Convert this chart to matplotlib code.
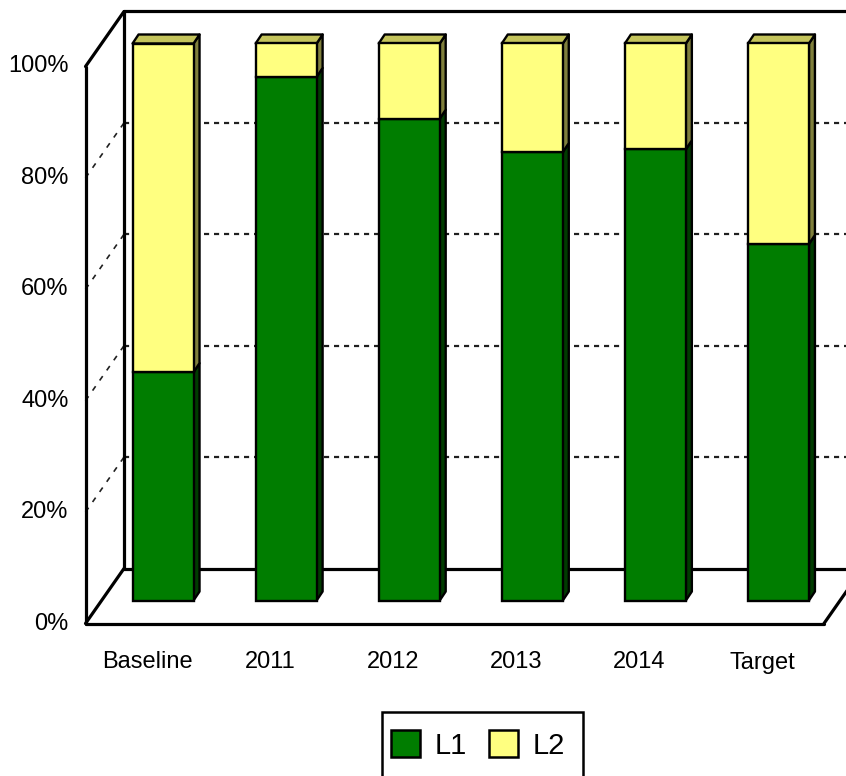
import matplotlib
matplotlib.use("Agg")
import matplotlib.pyplot as plt
from matplotlib.patches import Polygon, Patch, Rectangle

# ---------------- data ----------------
categories = ["Baseline", "2011", "2012", "2013", "2014", "Target"]
l1_values = [41.0, 94.0, 86.5, 80.5, 81.0, 64.0]
l2_values = [59.0, 6.0, 13.5, 19.5, 19.0, 36.0]
series_names = ["L1", "L2"]
y_ticks = [0, 20, 40, 60, 80, 100]
y_tick_labels = ["0%", "20%", "40%", "60%", "80%", "100%"]

# ---------------- style ----------------
GREEN = "#007d00"
GREEN_SIDE = "#003c00"
YELLOW = "#ffff80"
YELLOW_SIDE = "#80803c"
YELLOW_TOP = "#c4c45c"
FONT = "Liberation Sans"
TICK_FS = 17
LEG_FS = 21

W, H, DPI = 846, 776, 100
fig = plt.figure(figsize=(W / DPI, H / DPI), dpi=DPI)
ax = fig.add_axes([0, 0, 1, 1])
ax.axis("off")

PX = 123.08   # pixels per category
PY = 5.57     # pixels per percent
XL_PX = 101.5  # pixel column of category -0.5 in the bar plane
Y0_PX = 600.5  # pixel row of 0 % in the bar plane
ax.set_xlim(-0.5 - XL_PX / PX, -0.5 + (W - XL_PX) / PX)
ax.set_ylim(-(H - Y0_PX) / PY, Y0_PX / PY)
sx, sy = 1.0 / PX, 1.0 / PY

n = len(categories)
X0, X1 = -0.5, n - 0.5
bx, by = 22.5 * sx, 32 * sy      # back wall offset
fx, fy = -16 * sx, -23 * sy      # front plane offset
dx, dy = 6 * sx, 9 * sy          # bar depth

LW = 2.3
dash_kw = dict(color="#202020", lw=1.6, ls=(0, (2.3, 2.2)), zorder=1)
diag_kw = dict(color="#202020", lw=1.2, ls=(0, (3.2, 4.2)), zorder=1)
solid_kw = dict(color="black", lw=LW, zorder=1.5, solid_capstyle="round")

# back wall
ax.plot([X0 + bx, X0 + bx], [by, 100 + by], **solid_kw)
ax.plot([X0 + bx, X1 + bx], [100 + by, 100 + by], **solid_kw)
ax.plot([X0 + bx, X1 + bx], [by, by], **solid_kw)
for v in y_ticks[1:-1]:
    ax.plot([X0 + bx, X1 + bx], [v + by, v + by], **dash_kw)
    ax.plot([X0 + fx, X0 + bx], [v + fy, v + by], **diag_kw)
# side-wall edges and floor
ax.plot([X0 + fx, X0 + bx], [100 + fy, 100 + by], **solid_kw)
ax.plot([X0 + fx, X0 + bx], [fy, by], **solid_kw)
ax.plot([X0 + fx, X1 + fx], [fy, fy], **solid_kw)
ax.plot([X1 + fx, X1 + bx], [fy, by], **solid_kw)
ax.plot([X0 + fx, X0 + fx], [fy, 100 + fy], **solid_kw)

# bars
x = list(range(n))
w = 61 / PX
ax.bar(x, l1_values, w, color=GREEN, edgecolor="black", linewidth=1.7, zorder=3)
ax.bar(x, l2_values, w, bottom=l1_values, color=YELLOW, edgecolor="black",
       linewidth=1.7, zorder=3)
for i in x:
    xr = i + w / 2
    xl = i - w / 2
    segs = [(0, l1_values[i], GREEN_SIDE),
            (l1_values[i], l2_values[i], YELLOW_SIDE)]
    for b, h, c in segs:
        ax.add_patch(Polygon([(xr, b), (xr + dx, b + dy), (xr + dx, b + h + dy), (xr, b + h)],
                             closed=True, fc=c, ec="black", lw=1.7, zorder=2.8,
                             joinstyle="round"))
    top = l1_values[i] + l2_values[i]
    ax.add_patch(Polygon([(xl, top), (xr, top), (xr + dx, top + dy), (xl + dx, top + dy)],
                         closed=True, fc=YELLOW_TOP, ec="black", lw=1.7, zorder=2.8,
                         joinstyle="round"))

# tick labels
for v, lab in zip(y_ticks, y_tick_labels):
    ax.text(X0 + fx - 17 * sx, v + fy, lab, ha="right", va="center",
            fontsize=TICK_FS, family=FONT, color="black")
for i, lab in enumerate(categories):
    ax.text(i + fx, fy - 39 * sy, lab, ha="center", va="center",
            fontsize=TICK_FS, family=FONT, color="black")

# legend (frame drawn separately: it runs off the bottom of the picture)
fig.patches.append(Rectangle((382 / W, -0.05), (583 - 382) / W, (H - 712) / H + 0.05,
                             transform=fig.transFigure, fill=False, ec="black",
                             lw=1.8, zorder=5))
handles = [Patch(facecolor=GREEN, edgecolor="black", linewidth=1.8, label=series_names[0]),
           Patch(facecolor=YELLOW, edgecolor="black", linewidth=1.8, label=series_names[1])]
leg = fig.legend(handles=handles, loc="center", ncol=2,
                 bbox_to_anchor=(478 / W, (H - 745) / H),
                 prop={"family": FONT, "size": LEG_FS}, frameon=False,
                 handlelength=1.0, handleheight=1.0, handletextpad=0.5,
                 columnspacing=0.75, borderpad=0, borderaxespad=0)

fig.savefig("out.png", dpi=DPI)
